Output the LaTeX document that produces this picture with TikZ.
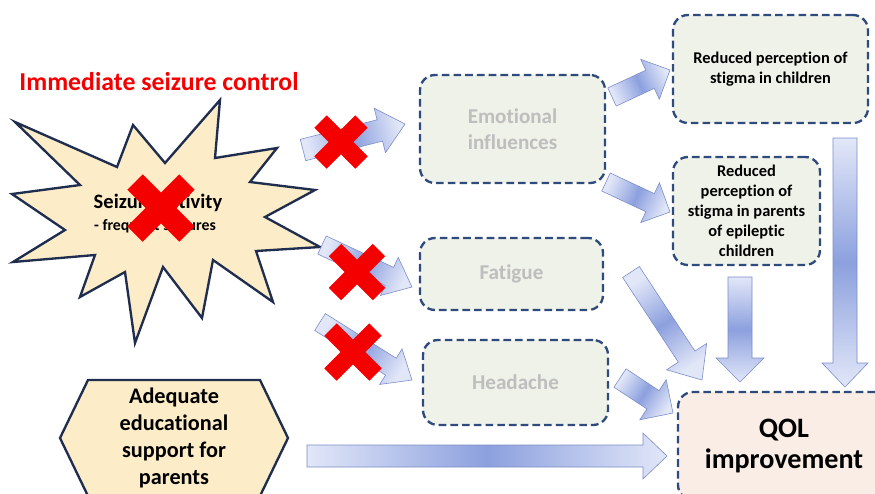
\documentclass[tikz,border=0pt]{standalone}
\usepackage{fontspec}
\setmainfont{Carlito}[Ligatures=NoCommon]
\usepackage{tikz}
\usetikzlibrary{calc}

\definecolor{boxline}{RGB}{47,74,125}
\definecolor{boxfill}{RGB}{238,242,232}
\definecolor{qolfill}{RGB}{249,237,229}
\definecolor{fadetext}{RGB}{190,190,190}
\definecolor{causeline}{RGB}{31,45,78}
\definecolor{causefill}{RGB}{252,236,200}
\definecolor{crossred}{RGB}{245,0,0}
\definecolor{arrowlite}{RGB}{226,231,248}
\definecolor{arrowdeep}{RGB}{140,160,222}
\definecolor{arrowedge}{RGB}{122,140,200}

\pgfdeclarehorizontalshading{arrowglow}{100bp}{color(0bp)=(arrowlite); color(25bp)=(arrowlite);
  color(50bp)=(arrowdeep); color(75bp)=(arrowlite); color(100bp)=(arrowlite)}

% block arrow: [options]{from}{to}{half shaft}{half head}{head length}, sizes in px
\newcommand{\blockarrow}[6][]{%
  \coordinate (ba-base) at ($(#3)!#6*0.03cm!(#2)$);
  \path[barrow,#1] ($(#2)!#4*0.03cm!90:(#3)$) -- ($(ba-base)!#4*0.03cm!90:(#3)$)
    -- ($(ba-base)!#5*0.03cm!90:(#3)$) -- (#3)
    -- ($(ba-base)!#5*0.03cm!-90:(#3)$) -- ($(ba-base)!#4*0.03cm!-90:(#3)$)
    -- ($(#2)!#4*0.03cm!-90:(#3)$) -- cycle;}
% red cross: {centre}{half size}{arm width}
\newcommand{\redcross}[3]{%
  \draw[cross=#3] ($(#1)+(-#2,-#2)$) -- ($(#1)+(#2,#2)$)
                  ($(#1)+(-#2,#2)$) -- ($(#1)+(#2,-#2)$);}

\begin{document}
\begin{tikzpicture}[
  x=0.03cm, y=-0.03cm,
  box/.style={draw=boxline, line width=2pt, dash pattern=on 6.5pt off 3.5pt,
    rounded corners=0.45cm, fill=boxfill, align=center, inner sep=2pt},
  faded/.style={box, text=fadetext, font=\fontsize{18}{22}\selectfont\bfseries},
  effect/.style={box, text=black, font=\fontsize{14}{17}\selectfont\bfseries},
  cause/.style={draw=causeline, line width=2pt, fill=causefill, line join=miter},
  barrow/.style={draw=arrowedge, line width=0.5pt, shade, shading=arrowglow},
  cross/.style={draw=crossred, line width=#1},
]
\clip (0,0) rectangle (875,493);

% ---------------- left: causes ----------------
\node[text=crossred, font=\fontsize{22}{26}\selectfont\bfseries] (title) at (159,82)
  {Immediate seizure control};
\draw[cause] (15,122) -- (117,167) -- (133,125) -- (165,163) -- (220,100) -- (215,158)
  -- (277,148) -- (250,182) -- (315,190) -- (265,217) -- (320,247) -- (256,251)
  -- (273,302) -- (213,260) -- (202,318) -- (163,267) -- (135,343) -- (125,272)
  -- (80,297) -- (95,255) -- (13,262) -- (65,230) -- (12,194) -- (80,185) -- cycle;
\node[font=\fontsize{17.5}{20}\selectfont\bfseries] (sz) at (158,203) {Seizure activity};
\node[font=\fontsize{13.5}{16}\selectfont\bfseries] (szsub) at (155,226) {- frequent seizures};
\draw[cause] (60,438) -- (88,380) -- (260,380) -- (288,438) -- (260,496) -- (88,496) -- cycle;
\node[align=center, font=\fontsize{19}{23}\selectfont\bfseries] (edu) at (174,438)
  {Adequate\\educational\\support for\\parents};

% ---------------- middle and right: effects ----------------
\node[faded, minimum width=5.55cm, minimum height=3.24cm] (emo) at (512.5,129) {Emotional\\influences};
\node[faded, minimum width=5.49cm, minimum height=2.16cm] (fat) at (511.5,274) {Fatigue};
\node[faded, minimum width=5.55cm, minimum height=2.55cm] (head) at (515.5,382.5) {Headache};
\node[effect, minimum width=5.85cm, minimum height=3.24cm] (stc) at (770.5,69)
  {Reduced perception of\\stigma in children};
\node[effect, minimum width=4.41cm, minimum height=3.24cm] (stp) at (746.5,211)
  {Reduced\\perception of\\stigma in parents\\of epileptic\\children};
\node[box, fill=qolfill, minimum width=6.36cm, minimum height=3.24cm,
  font=\fontsize{24}{27}\selectfont\bfseries] (qol) at (784,446) {QOL\\improvement};

% ---------------- block arrows ----------------
\coordinate (sz-emo) at (303,150);   \coordinate (emo-in) at (405,124);
\coordinate (sz-fat) at (322,245);   \coordinate (fat-in) at (412,287);
\coordinate (sz-head) at (320,322);  \coordinate (head-in) at (412,380);
\coordinate (emo-stc) at (612,97);   \coordinate (stc-in) at (670,70);
\coordinate (emo-stp) at (606,182);  \coordinate (stp-in) at (670,212);
\coordinate (fat-out) at (631,272);  \coordinate (qol-a) at (702,380);
\coordinate (head-out) at (620,378); \coordinate (qol-b) at (673,413);
\coordinate (stp-out) at (740,277);  \coordinate (qol-c) at (740,382);
\coordinate (stc-out) at (845,138);  \coordinate (qol-d) at (845,387);
\coordinate (edu-out) at (307,456);  \coordinate (qol-e) at (667,456);

\blockarrow[shading angle=14]{sz-emo}{emo-in}{11}{23}{26}
\blockarrow[shading angle=-25]{sz-fat}{fat-in}{10}{21}{25}
\blockarrow[shading angle=-32]{sz-head}{head-in}{10}{21}{25}
\blockarrow[shading angle=25]{emo-stc}{stc-in}{10}{22}{22}
\blockarrow[shading angle=-25]{emo-stp}{stp-in}{10}{22}{22}
\blockarrow[shading angle=-57]{fat-out}{qol-a}{10}{24}{28}
\blockarrow[shading angle=-33]{head-out}{qol-b}{11}{24}{24}
\blockarrow[shading angle=-90]{stp-out}{qol-c}{12}{24}{24}
\blockarrow[shading angle=-90]{stc-out}{qol-d}{12}{23}{24}
\blockarrow[shading angle=0]{edu-out}{qol-e}{11}{23}{24}

% ---------------- crosses ----------------
\coordinate (x-sz) at (161,208);
\coordinate (x-emo) at (341,142);
\coordinate (x-fat) at (357,272);
\coordinate (x-head) at (353,352);
\redcross{x-sz}{26}{18.5pt}
\redcross{x-emo}{20.5}{15pt}
\redcross{x-fat}{22}{15pt}
\redcross{x-head}{22.5}{15pt}
\end{tikzpicture}
\end{document}
